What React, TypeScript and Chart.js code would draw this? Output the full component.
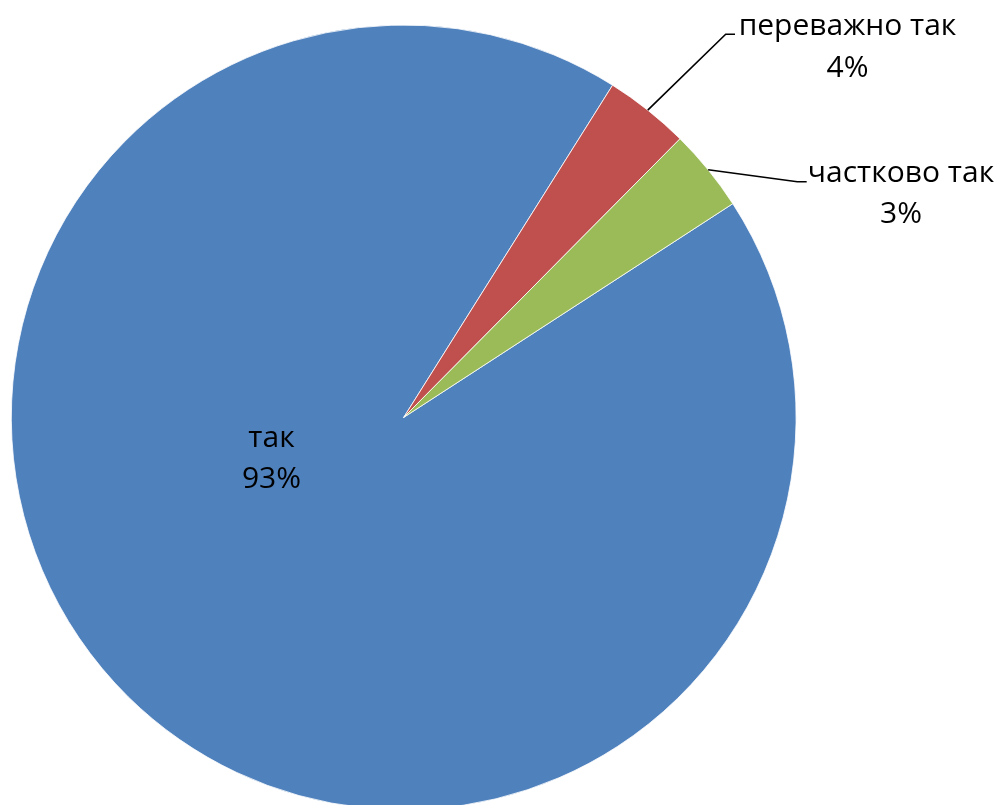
import React, { useEffect, useRef } from "react";
import { Chart, registerables } from "chart.js";

Chart.register(...registerables);

const categories = ["так", "переважно так", "частково так"];
const shares = [93.1, 3.5, 3.4];
const sliceColors = ["#4F81BD", "#C0504D", "#9BBB59"];

// label placement (layout): center x, first baseline, optional leader elbow
const LABEL_LAYOUT = [
  { cx: 271.5, y: 446.5, gap: 41, elbow: null as null | number[] },
  { cx: 847.5, y: 35, gap: 42, elbow: [725.7, 34.3, 735, 34.3] },
  { cx: 901, y: 181.7, gap: 41, elbow: [797.3, 181.7, 806.7, 181.7] },
];

const FONT = '30px "Open Sans", "Noto Sans", sans-serif';

const labelPlugin = {
  id: "pieLabels",
  afterDatasetsDraw(chart: any) {
    const ctx = chart.ctx as CanvasRenderingContext2D;
    const meta = chart.getDatasetMeta(0);
    const data = chart.data.datasets[0].data as number[];
    const total = data.reduce((a, b) => a + b, 0);
    ctx.save();
    meta.data.forEach((arc: any, i: number) => {
      const lay = LABEL_LAYOUT[i];
      const { x, y, startAngle, endAngle, outerRadius } = arc.getProps(
        ["x", "y", "startAngle", "endAngle", "outerRadius"],
        true
      );
      if (lay.elbow) {
        const mid = (startAngle + endAngle) / 2;
        const px = x + Math.cos(mid) * outerRadius;
        const py = y + Math.sin(mid) * outerRadius;
        ctx.beginPath();
        ctx.moveTo(px, py);
        ctx.lineTo(lay.elbow[0], lay.elbow[1]);
        ctx.lineTo(lay.elbow[2], lay.elbow[3]);
        ctx.strokeStyle = "#000";
        ctx.lineWidth = 1.6;
        ctx.stroke();
      }
      ctx.fillStyle = "#000";
      ctx.font = FONT;
      ctx.textAlign = "center";
      ctx.textBaseline = "alphabetic";
      ctx.fillText(String(chart.data.labels[i]), lay.cx, lay.y);
      const pct = Math.round((data[i] / total) * 100) + "%";
      ctx.fillText(pct, lay.cx, lay.y + lay.gap);
    });
    ctx.restore();
  },
};

export default function App() {
  const ref = useRef<HTMLCanvasElement | null>(null);
  useEffect(() => {
    document.body.style.margin = "0";
    const canvas = ref.current!;
    const chart = new Chart(canvas, {
      type: "pie",
      data: {
        labels: categories,
        datasets: [
          {
            data: shares,
            backgroundColor: sliceColors,
            borderColor: "#ffffff",
            borderWidth: 0.8,
          },
        ],
      },
      options: {
        responsive: false,
        animation: false,
        rotation: 57,
        radius: 392.4,
        layout: { padding: { left: 11, right: 200.6, top: 25, bottom: 20.2 } },
        plugins: {
          legend: { display: false },
          tooltip: { enabled: false },
        },
        events: [],
      },
      plugins: [labelPlugin],
    });
    return () => chart.destroy();
  }, []);
  return (
    <div style={{ width: 997, height: 805, overflow: "hidden", background: "#fff" }}>
      <canvas ref={ref} width={997} height={830} style={{ display: "block" }} />
    </div>
  );
}
